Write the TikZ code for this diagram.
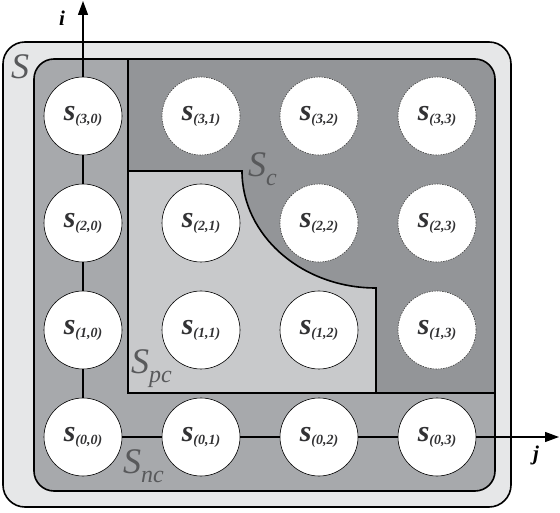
\documentclass[tikz,border=0pt]{standalone}
\usepackage{fontspec}
\setmainfont{Liberation Serif}
\usetikzlibrary{arrows.meta}
\definecolor{outerc}{RGB}{230,231,232}
\definecolor{ncc}{RGB}{167,169,172}
\definecolor{cc}{RGB}{147,149,152}
\definecolor{pcc}{RGB}{200,201,203}
\definecolor{lblc}{RGB}{88,89,91}
\definecolor{sitec}{RGB}{50,50,52}
\newcommand\sitelbl[1]{\textcolor{sitec}{{\fontsize{30}{30}\selectfont\bfseries\itshape s}{\fontsize{14}{14}\selectfont\bfseries\itshape\raisebox{-3pt}{(#1)}}}}
\newcommand\sublbl[1]{\raisebox{-9pt}{\fontsize{24}{24}\selectfont #1}}
\begin{document}
\begin{tikzpicture}[x=1pt,y=1pt,
  site/.style={circle, fill=white, draw=black, line width=0.6pt, minimum size=78pt, inner sep=0pt},
  dsite/.style={site, draw=black!75, dash pattern=on 1.6pt off 1pt},
  border/.style={line width=1.6pt},
  axisline/.style={line width=1.3pt},
  axisarrow/.style={line width=1.3pt, -{Triangle[length=14pt,width=10pt]}},
  reglbl/.style={text=lblc, font=\fontsize{36}{36}\selectfont\itshape, inner sep=0pt, anchor=base west},
  axlbl/.style={font=\fontsize{21}{21}\selectfont\bfseries\itshape, inner sep=0pt}
]
\useasboundingbox (0,0) rectangle (560,512);
% outer set S
\draw[border, fill=outerc, rounded corners=22pt] (3,5) rectangle (511,470);
% inner region S_nc
\path[fill=ncc, rounded corners=20pt] (34,21) rectangle (495,453);
% region S_c
\begin{scope}
\clip[rounded corners=20pt] (34,21) rectangle (495,453);
\fill[cc] (128,119) rectangle (500,460);
\end{scope}
\draw[border] (128,453) -- (128,119) -- (495,119);
% region S_pc
\draw[border, fill=pcc] (128,341) -- (242,341)
  arc[start angle=180, end angle=270, x radius=134, y radius=117]
  -- (376,119) -- (128,119) -- cycle;
\draw[border, rounded corners=20pt] (34,21) rectangle (495,453);

% sites
\node[site]  (s30) at (83,396)  {\sitelbl{3,0}};
\node[dsite] (s31) at (201,396) {\sitelbl{3,1}};
\node[dsite] (s32) at (319,396) {\sitelbl{3,2}};
\node[dsite] (s33) at (437,396) {\sitelbl{3,3}};
\node[site]  (s20) at (83,289)  {\sitelbl{2,0}};
\node[site]  (s21) at (201,289) {\sitelbl{2,1}};
\node[dsite] (s22) at (319,289) {\sitelbl{2,2}};
\node[dsite] (s23) at (437,289) {\sitelbl{2,3}};
\node[site]  (s10) at (83,182)  {\sitelbl{1,0}};
\node[site]  (s11) at (201,182) {\sitelbl{1,1}};
\node[site]  (s12) at (319,182) {\sitelbl{1,2}};
\node[dsite] (s13) at (437,182) {\sitelbl{1,3}};
\node[site]  (s00) at (83,75)   {\sitelbl{0,0}};
\node[site]  (s01) at (201,75)  {\sitelbl{0,1}};
\node[site]  (s02) at (319,75)  {\sitelbl{0,2}};
\node[site]  (s03) at (437,75)  {\sitelbl{0,3}};

% axes
\coordinate (itip) at (83,511);
\coordinate (jtip) at (559,75);
\draw[axisline] (s00) -- (s10);
\draw[axisline] (s10) -- (s20);
\draw[axisline] (s20) -- (s30);
\draw[axisarrow] (s30) -- (itip);
\draw[axisline] (s00) -- (s01);
\draw[axisline] (s01) -- (s02);
\draw[axisline] (s02) -- (s03);
\draw[axisarrow] (s03) -- (jtip);
\node[axlbl] (li) at (62,494) {i};
\node[axlbl] (lj) at (536,57) {j};

% region labels
\node[reglbl] (lS) at (11,433) {S};
\node[reglbl] (lSc) at (248,335) {S\sublbl{c}};
\node[reglbl] (lSpc) at (131,139) {S\sublbl{pc}};
\node[reglbl] (lSnc) at (123,39) {S\sublbl{nc}};
\end{tikzpicture}
\end{document}
